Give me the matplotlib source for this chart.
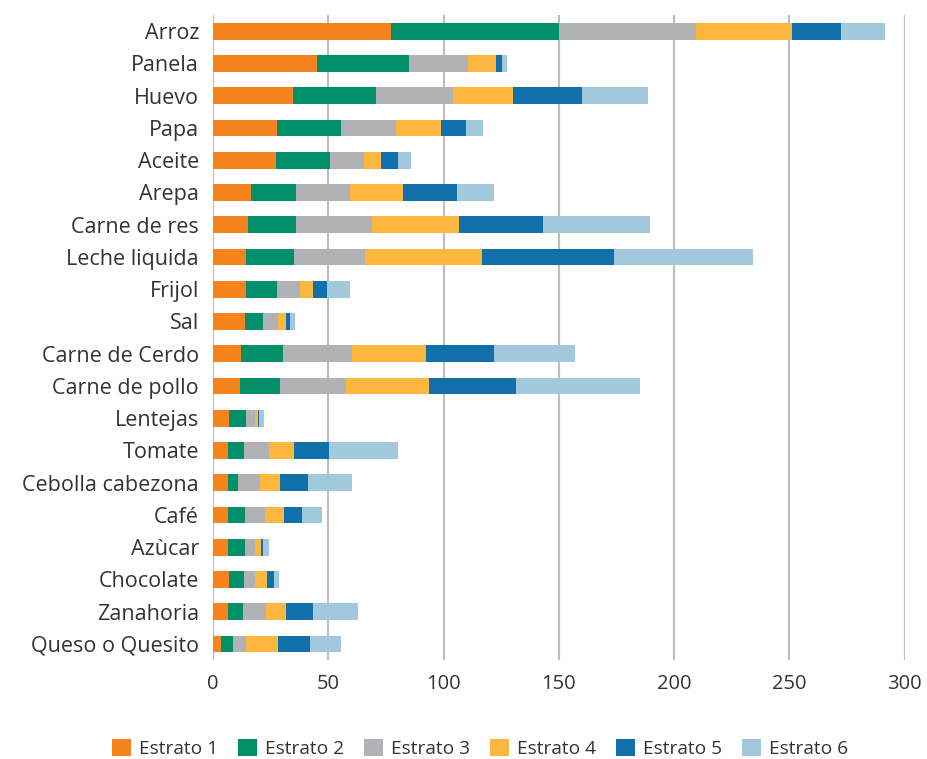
import numpy as np
import matplotlib.pyplot as plt

categorias = ['Arroz', 'Panela', 'Huevo', 'Papa', 'Aceite', 'Arepa', 'Carne de res',
              'Leche liquida', 'Frijol', 'Sal', 'Carne de Cerdo', 'Carne de pollo',
              'Lentejas', 'Tomate', 'Cebolla cabezona', 'Café', 'Azùcar',
              'Chocolate', 'Zanahoria', 'Queso o Quesito']

estrato1 = [77.2, 45.0, 34.6, 27.7, 27.3, 16.3, 15.1, 14.5, 14.5, 13.7, 12.3, 11.9, 6.8, 6.4, 6.4, 6.4, 6.4, 6.8, 6.4, 3.4]
estrato2 = [72.9, 40.2, 35.9, 27.6, 23.3, 19.9, 20.7, 20.5, 13.2, 8.2, 18.0, 17.0, 7.7, 6.9, 4.3, 7.3, 7.7, 6.5, 6.5, 5.2]
estrato3 = [59.3, 25.5, 33.4, 23.9, 14.7, 23.1, 33.1, 31.1, 10.1, 6.2, 29.8, 29.0, 3.8, 10.8, 9.6, 8.8, 4.2, 5.0, 10.0, 5.7]
estrato4 = [41.8, 11.9, 26.1, 19.5, 7.7, 22.9, 37.6, 50.7, 5.4, 3.4, 32.1, 35.7, 1.2, 10.9, 8.6, 8.2, 2.4, 5.0, 8.9, 13.8]
estrato5 = [21.3, 2.6, 30.2, 11.2, 7.4, 23.5, 36.4, 57.0, 6.2, 1.7, 29.8, 38.0, 0.3, 15.2, 12.1, 7.7, 1.2, 3.0, 11.4, 13.9]
estrato6 = [18.7, 2.2, 28.5, 7.3, 5.4, 16.3, 46.4, 60.5, 9.9, 2.2, 34.8, 53.7, 2.4, 30.2, 19.1, 8.8, 2.2, 2.2, 19.5, 13.3]

series = [estrato1, estrato2, estrato3, estrato4, estrato5, estrato6]
nombres = ['Estrato 1', 'Estrato 2', 'Estrato 3', 'Estrato 4', 'Estrato 5', 'Estrato 6']
colores = ['#F5841F', '#008F68', '#B1B2B5', '#FDB73E', '#1170AA', '#A1C8DC']

plt.rcParams['font.family'] = ['Open Sans', 'DejaVu Sans']

fig = plt.figure(figsize=(9.28, 7.59), dpi=100)
ax = fig.add_axes([0.2295, 0.1304, 0.7455, 0.8498])

y = np.arange(len(categorias))
izq = np.zeros(len(categorias))
for vals, nombre, color in zip(series, nombres, colores):
    ax.barh(y, vals, left=izq, height=0.52, color=color, label=nombre, zorder=3)
    izq += np.array(vals)

ax.set_ylim(len(categorias) - 0.5, -0.5)
ax.set_xlim(0, 300)
ax.set_xticks(np.arange(0, 301, 50))
ax.set_yticks(y)
ax.set_yticklabels(categorias)
ax.tick_params(axis='both', length=0, colors='#333333')
ax.tick_params(axis='y', pad=10, labelsize=15.5)
ax.tick_params(axis='x', pad=10, labelsize=14.5)
ax.grid(axis='x', color='#BDBDBD', linewidth=1.5, zorder=0)
for s in ax.spines.values():
    s.set_visible(False)

fig.legend(loc='center', bbox_to_anchor=(0.517, 0.014), ncol=6, frameon=False,
           fontsize=13.8, handlelength=1.0, handleheight=1.0, handletextpad=0.4,
           columnspacing=1.05, labelcolor='#333333')

fig.savefig('out.png', dpi=100)
